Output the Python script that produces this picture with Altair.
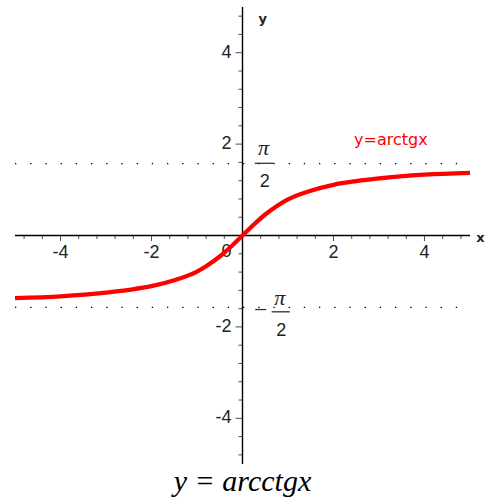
import altair as alt
import pandas as pd

# Sample points of the plotted curve
curve_x = [-5, -4, -3, -2.5, -2, -1.5, -1, -0.75, -0.5, -0.25, 0,
           0.25, 0.5, 0.75, 1, 1.5, 2, 2.5, 3, 4, 5]
curve_y = [-1.37, -1.33, -1.25, -1.19, -1.11, -0.98, -0.79, -0.64, -0.46, -0.24, 0,
           0.24, 0.46, 0.64, 0.79, 0.98, 1.11, 1.19, 1.25, 1.33, 1.37]

# Axis ticks and labels
major_ticks = [-4, -2, 2, 4]
minor_ticks = [-4.8, -4.4, -3.6, -3.2, -2.8, -2.4, -1.6, -1.2, -0.8, -0.4,
               0.4, 0.8, 1.2, 1.6, 2.4, 2.8, 3.2, 3.6, 4.4, 4.8]
tick_labels = ["-4", "-2", "2", "4"]

# Horizontal asymptotes y = ±π/2
asymptotes = [1.5708, -1.5708]
lo, hi = -5, 5

xs = alt.Scale(domain=[lo, hi], nice=False, zero=False)
ys = alt.Scale(domain=[lo, hi], nice=False, zero=False)


def X(field="x"):
    return alt.X(f"{field}:Q", scale=xs, axis=None)


def Y(field="y"):
    return alt.Y(f"{field}:Q", scale=ys, axis=None)


# Axis lines through the origin
x_axis = alt.Chart(pd.DataFrame({"x": [lo], "x2": [hi], "y": [0]})).mark_rule(
    color="black", strokeWidth=1.4
).encode(x=X(), x2="x2:Q", y=Y())
y_axis = alt.Chart(pd.DataFrame({"x": [0], "y": [lo], "y2": [hi]})).mark_rule(
    color="black", strokeWidth=1.4
).encode(x=X(), y=Y(), y2="y2:Q")

# Tick marks: below the x axis, left of the y axis
xt_major = alt.Chart(pd.DataFrame({"x": major_ticks, "y": 0})).mark_tick(
    orient="vertical", size=5, thickness=1, yOffset=3, color="black"
).encode(x=X(), y=Y())
xt_minor = alt.Chart(pd.DataFrame({"x": minor_ticks, "y": 0})).mark_tick(
    orient="vertical", size=3, thickness=1, yOffset=2, color="black"
).encode(x=X(), y=Y())
yt_major = alt.Chart(pd.DataFrame({"y": major_ticks, "x": 0})).mark_tick(
    orient="horizontal", size=7, thickness=1, xOffset=-3.5, color="black"
).encode(x=X(), y=Y())
yt_minor = alt.Chart(pd.DataFrame({"y": minor_ticks, "x": 0})).mark_tick(
    orient="horizontal", size=4, thickness=1, xOffset=-2, color="black"
).encode(x=X(), y=Y())

# Tick labels
x_lab = alt.Chart(pd.DataFrame({"x": major_ticks, "y": 0, "t": tick_labels})).mark_text(
    font="Liberation Sans", fontSize=18, align="center", baseline="middle", dy=17, color="#222"
).encode(x=X(), y=Y(), text="t:N")
y_lab = alt.Chart(pd.DataFrame({"y": major_ticks, "x": 0, "t": tick_labels})).mark_text(
    font="Liberation Sans", fontSize=18, align="right", baseline="middle", dx=-11, color="#222"
).encode(x=X(), y=Y(), text="t:N")
zero_lab = alt.Chart(pd.DataFrame({"x": [0], "y": [0], "t": ["0"]})).mark_text(
    font="Liberation Sans", fontSize=18, align="right", baseline="middle", dx=-11, dy=16, color="#222"
).encode(x=X(), y=Y(), text="t:N")

# Axis names
axis_names = alt.Chart(pd.DataFrame({"x": [0.35, 5.14], "y": [4.74, -0.06], "t": ["y", "x"]})).mark_text(
    font="DejaVu Sans", fontSize=13, fontWeight="bold", align="left", baseline="middle", color="#222"
).encode(x=X(), y=Y(), text="t:N")

# Dotted asymptotes
dots = alt.Chart(pd.DataFrame({"x": lo, "x2": hi, "y": asymptotes})).mark_rule(
    color="black", strokeWidth=1.3, strokeDash=[1.3, 13.9]
).encode(x=X(), x2="x2:Q", y=Y())

# Curve
curve = alt.Chart(pd.DataFrame({"x": curve_x, "y": curve_y})).mark_line(
    color="#ff0000", strokeWidth=4.3, interpolate="monotone"
).encode(x=X(), y=Y())

# π/2 and -π/2 labels, written as stacked fractions
pi_text = alt.Chart(pd.DataFrame({
    "x": [0.46, 0.82],
    "y": [1.91, -1.36],
    "t": ["π", "π"],
})).mark_text(
    font="Liberation Serif", fontSize=22, fontStyle="italic", align="center", baseline="middle", color="#222"
).encode(x=X(), y=Y(), text="t:N")
two_text = alt.Chart(pd.DataFrame({
    "x": [0.49, 0.85],
    "y": [1.16, -2.10],
    "t": ["2", "2"],
})).mark_text(
    font="Liberation Sans", fontSize=18, align="center", baseline="middle", color="#222"
).encode(x=X(), y=Y(), text="t:N")
bars = alt.Chart(pd.DataFrame({
    "x": [0.27, 0.64, 0.28],
    "x2": [0.69, 1.04, 0.52],
    "y": [1.58, -1.67, -1.62],
})).mark_rule(color="#222", strokeWidth=1.2).encode(x=X(), x2="x2:Q", y=Y())

# Curve name
curve_name = alt.Chart(pd.DataFrame({"x": [3.26], "y": [2.09], "t": ["y=arctgx"]})).mark_text(
    font="DejaVu Sans", fontSize=16, align="center", baseline="middle", color="#ff0000"
).encode(x=X(), y=Y(), text="t:N")

# Caption under the plot
caption = alt.Chart(pd.DataFrame({"x": [0], "y": [-5.59], "t": ["y = arcctgx"]})).mark_text(
    font="Liberation Serif", fontSize=30, fontStyle="italic", align="center", baseline="alphabetic", color="black"
).encode(x=X(), y=Y(), text="t:N")

chart = alt.layer(
    dots, x_axis, y_axis, xt_major, xt_minor, yt_major, yt_minor,
    x_lab, y_lab, zero_lab, axis_names, pi_text, two_text, bars,
    curve, curve_name, caption,
).properties(
    width=455,
    height=457,
    padding={"left": 15, "top": 7, "right": 16, "bottom": 38},
    autosize=alt.AutoSizeParams(type="none"),
    background="white",
).configure_view(stroke=None)

chart.save("out.html", embed_options={"renderer": "svg", "actions": False})
